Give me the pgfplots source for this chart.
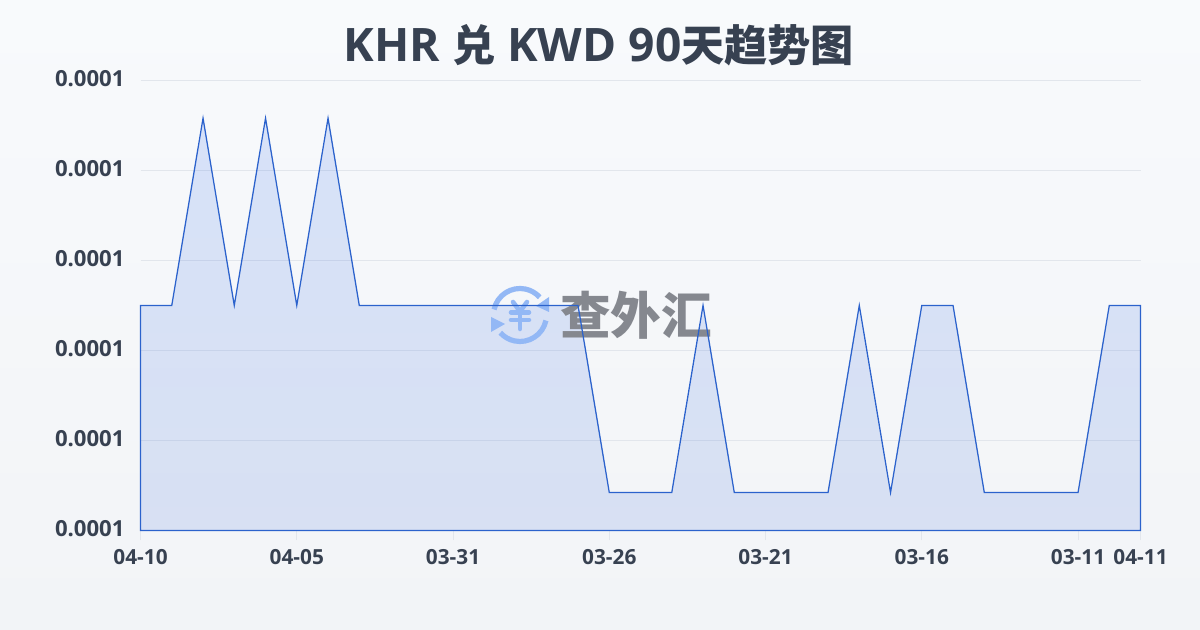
\documentclass[border=0pt]{standalone}
\usepackage{pgfplots}
\pgfplotsset{compat=1.18}
\usepackage{fontspec}
\setmainfont{Open Sans}
\newfontfamily\cjk{Noto Sans CJK SC}
\newcommand{\tc}[1]{{\cjk\fontsize{32.4pt}{32.4pt}\selectfont\bfseries #1}}
\definecolor{bgtop}{HTML}{F8FAFC}
\definecolor{bgbot}{HTML}{F2F4F7}
\definecolor{ink}{HTML}{374151}
\definecolor{lineblue}{HTML}{2B62CC}
\definecolor{filltop}{HTML}{2563EB}
\definecolor{fillbot}{HTML}{3F6DD8}
\definecolor{gridc}{HTML}{E2E6EC}
\definecolor{logoblue}{HTML}{93B8F5}
\definecolor{logogray}{HTML}{85888F}
\pgfplotstableread{
x y
0 0.000100
0 0.0001025
1 0.0001025
2 0.00010458
3 0.0001025
4 0.00010458
5 0.0001025
6 0.00010458
7 0.0001025
8 0.0001025
9 0.0001025
10 0.0001025
11 0.0001025
12 0.0001025
13 0.0001025
14 0.0001025
15 0.00010042
16 0.00010042
17 0.00010042
18 0.0001025
19 0.00010042
20 0.00010042
21 0.00010042
22 0.00010042
23 0.0001025
24 0.00010042
25 0.0001025
26 0.0001025
27 0.00010042
28 0.00010042
29 0.00010042
30 0.00010042
31 0.0001025
32 0.0001025
32 0.000100
}\rates
\pgfplotsset{base/.style={
  at={(105.4pt,74.7pt)},anchor=south west,
  scale only axis,width=750pt,height=337.5pt,
  xmin=0,xmax=32,ymin=0.000100,ymax=0.000105,
  axis line style={draw=none},
  clip=false}}
\begin{document}
\begin{tikzpicture}[x=0.75pt,y=0.75pt]
\useasboundingbox (0,0) rectangle (1200,630);
\shade[top color=bgtop,bottom color=bgbot] (0,0) rectangle (1200,630);
\begin{axis}[base,
  xtick={0,5,10,15,20,25,30,32},
  xticklabels={04-10,04-05,03-31,03-26,03-21,03-16,03-11,04-11},
  ytick={0.000100,0.000101,0.000102,0.000103,0.000104,0.000105},
  scaled y ticks=false,
  yticklabel style={/pgf/number format/fixed,/pgf/number format/precision=4,/pgf/number format/assume math mode=true,
     font=\fontsize{16.6pt}{16.6pt}\selectfont\bfseries,text=ink,xshift=-1pt,yshift=1.2pt},
  xticklabel style={font=\fontsize{15.6pt}{15.6pt}\selectfont\bfseries,text=ink,yshift=-3.3pt},
  tick align=outside,
  tick pos=left,
  ymajorgrids,
  grid style={gridc,line width=0.75pt},
  xtick style={gridc,line width=0.75pt},
  ytick style={draw=none},
  major tick length=7.5pt,
]
\addplot[draw=none,shade,top color=filltop,bottom color=fillbot,opacity=0.15] table {\rates} -- cycle;
\end{axis}
% watermark
\begin{scope}[shift={(520,315)}]
\draw[logoblue,line width=3.9pt] (168:26.5) arc (168:42:26.5);
\draw[logoblue,line width=3.9pt] (-12:26.5) arc (-12:-138:26.5);
\fill[logoblue] (16,9) -- (29,18) -- (29,3) -- cycle;
\fill[logoblue] (-15,-9) -- (-29,-17) -- (-29,-2) -- cycle;
\draw[logoblue,line width=3.4pt,line join=round,line cap=round] (-7,13) -- (0,3.5) -- (7,13);
\draw[logoblue,line width=3.4pt,line cap=round] (0,3.5) -- (0,-14);
\draw[logoblue,line width=3.4pt,line cap=round] (-9,2.7) -- (9,2.7);
\draw[logoblue,line width=3.4pt,line cap=round] (-9,-5) -- (9,-5);
\end{scope}
\node[text=logogray,font=\cjk\fontsize{38pt}{38pt}\selectfont\bfseries,inner sep=0pt,anchor=center] at (636,315) {查外汇};
\begin{axis}[base,hide axis]
\addplot[draw=lineblue,line width=0.95pt,line join=miter] table {\rates} -- cycle;
\end{axis}
\node[text=ink,font=\fontsize{34.6pt}{34.6pt}\selectfont\bfseries,inner sep=0pt] at (599,585) {KHR \tc{兑} KWD 90\tc{天趋势图}};
\end{tikzpicture}
\end{document}
